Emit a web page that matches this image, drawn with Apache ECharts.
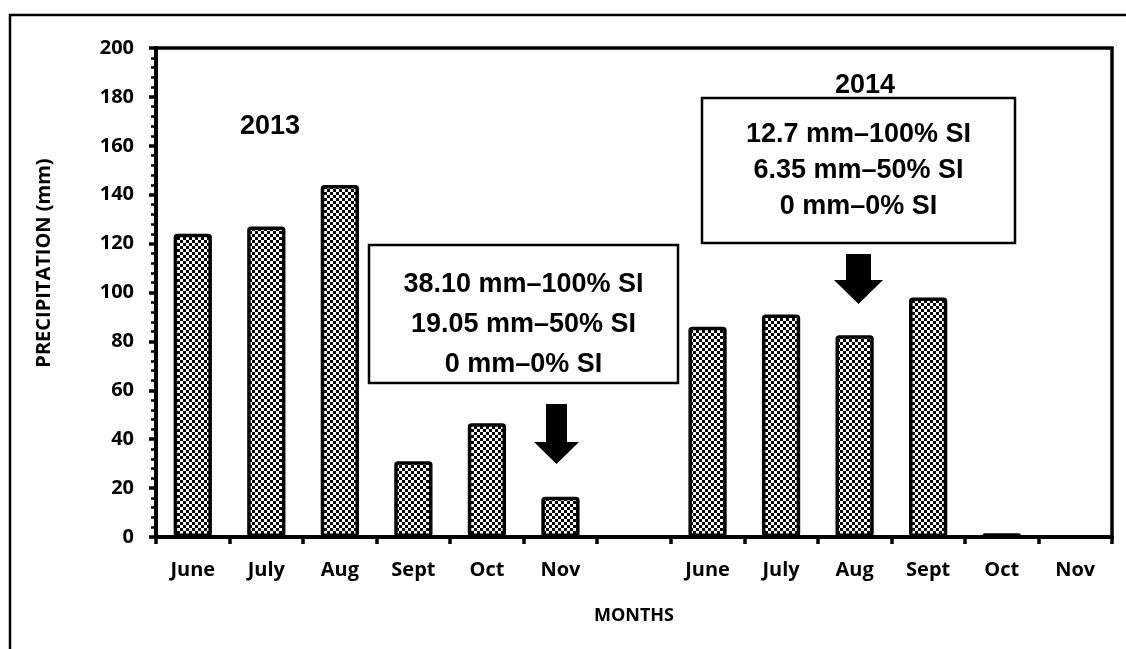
<!DOCTYPE html>
<html>
<head>
<meta charset="utf-8">
<script src="https://cdn.jsdelivr.net/npm/echarts@6/dist/echarts.min.js"></script>
<style>
html,body{margin:0;padding:0;background:#fff;}
#chart{width:1126px;height:649px;}
</style>
</head>
<body>
<div id="chart"></div>
<script>
// ---- data ----
const categories = ['June','July','Aug','Sept','Oct','Nov','','June','July','Aug','Sept','Oct','Nov'];
const precipitation = [124, 127, 144, 31, 46.5, 16.5, null, 86, 91, 82.5, 98, 1.5, 0];
const yTicks = { min: 0, max: 200, interval: 20 };
const yearLabels = ['2013', '2014'];
const box2013Lines = ['38.10 mm\u2013100% SI', '19.05 mm\u201350% SI', '0 mm\u20130% SI'];
const box2014Lines = ['12.7 mm\u2013100% SI', '6.35 mm\u201350% SI', '0 mm\u20130% SI'];
const yAxisTitle = 'PRECIPITATION (mm)';
const xAxisTitle = 'MONTHS';

// checkerboard pattern
const tile = document.createElement('canvas');
tile.width = 6; tile.height = 6;
const tctx = tile.getContext('2d');
tctx.fillStyle = '#ffffff'; tctx.fillRect(0,0,6,6);
tctx.fillStyle = '#000000';
tctx.fillRect(0,0,3,3); tctx.fillRect(3,3,3,3);

const labelFont = '"Open Sans", sans-serif';
const boxFont = '"Liberation Sans", Arial, sans-serif';

function boxGroup(lines, x, y, w, h, lineGap, firstY) {
  const children = [{
    type: 'rect', shape: { x: x, y: y, width: w, height: h },
    style: { fill: '#fff', stroke: '#000', lineWidth: 2.5 }
  }];
  lines.forEach((t, i) => {
    children.push({
      type: 'text', x: x + w / 2, y: firstY + i * lineGap,
      style: { text: t, font: 'bold 27px ' + boxFont, fill: '#000', align: 'center', verticalAlign: 'middle' }
    });
  });
  return children;
}
function arrow(sx1, sx2, top, headY, hx1, hx2, tipY) {
  const cx = (hx1 + hx2) / 2;
  return {
    type: 'polygon',
    shape: { points: [[sx1, top], [sx2, top], [sx2, headY], [hx2, headY], [cx, tipY], [hx1, headY], [sx1, headY]] },
    style: { fill: '#000' }
  };
}

const chart = echarts.init(document.getElementById('chart'));
chart.setOption({
  animation: false,
  backgroundColor: '#fff',
  grid: { left: 156, top: 48, right: 14, bottom: 112, show: true, borderColor: '#000', borderWidth: 3.5, backgroundColor: 'transparent' },
  xAxis: {
    type: 'category', data: categories,
    name: xAxisTitle, nameLocation: 'middle', nameGap: 70,
    nameTextStyle: { fontFamily: labelFont, fontWeight: 'bold', fontSize: 18, color: '#000' },
    axisLine: { lineStyle: { color: '#000', width: 4 } },
    axisTick: { show: true, length: 7, lineStyle: { color: '#000', width: 3.5 } },
    axisLabel: { fontFamily: labelFont, fontWeight: 'bold', fontSize: 20, color: '#000', margin: 23, interval: 0 }
  },
  yAxis: {
    type: 'value', min: yTicks.min, max: yTicks.max, interval: yTicks.interval,
    axisLine: { show: true, lineStyle: { color: '#000', width: 4 } },
    axisTick: { show: true, length: 7, lineStyle: { color: '#000', width: 3.5 } },
    minorTick: { show: true, splitNumber: 5, length: 5, lineStyle: { color: '#000', width: 2.5 } },
    splitLine: { show: false },
    axisLabel: { fontFamily: labelFont, fontWeight: 'bold', fontSize: 20, color: '#000', margin: 22 }
  },
  series: [{
    type: 'bar', data: precipitation, barWidth: '52%',
    itemStyle: { color: { image: tile, repeat: 'repeat' }, borderColor: '#000', borderWidth: 3.5, borderRadius: 2 }
  }],
  graphic: [
    { type: 'polyline', shape: { points: [[10, 649], [10, 15], [1126, 15]] }, style: { stroke: '#000', lineWidth: 2.5, fill: null } },
    { type: 'text', x: 44, y: 263, rotation: Math.PI / 2, style: { text: yAxisTitle, font: 'bold 20px ' + labelFont, fill: '#000', align: 'center', verticalAlign: 'middle' } },
    { type: 'text', x: 270, y: 127, style: { text: yearLabels[0], font: 'bold 27px ' + boxFont, fill: '#000', align: 'center', verticalAlign: 'middle' } },
    { type: 'text', x: 865, y: 86, style: { text: yearLabels[1], font: 'bold 27px ' + boxFont, fill: '#000', align: 'center', verticalAlign: 'middle' } },
    ...boxGroup(box2013Lines, 369, 245, 309, 138, 40, 285),
    ...boxGroup(box2014Lines, 702, 98, 313, 145, 36, 135),
    arrow(546, 567, 404, 442, 534, 579, 464),
    arrow(846, 871, 254, 280, 834, 883, 304)
  ]
});
</script>
</body>
</html>
